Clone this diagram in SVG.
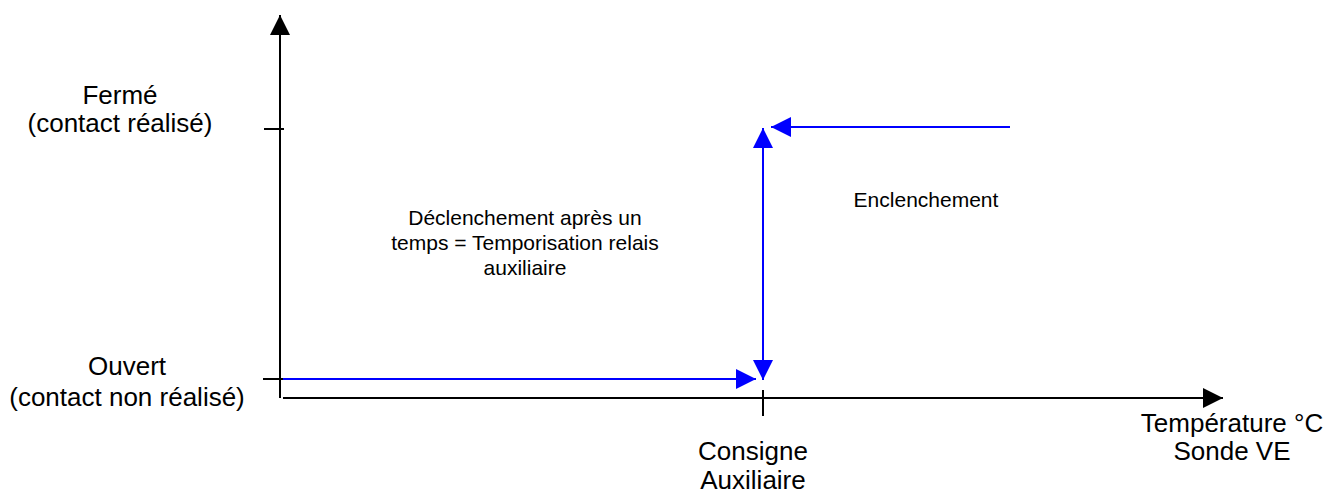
<svg xmlns="http://www.w3.org/2000/svg" width="1332" height="494" viewBox="0 0 1332 494">
<style>
text{font-family:"Liberation Sans",Arial,sans-serif;fill:#000;text-anchor:middle}
.big{font-size:26px}
.small{font-size:21px}
.ax{stroke:#000;stroke-width:2;fill:none}
.bl{stroke:#0000FF;stroke-width:2;fill:none}
</style>
<defs>
<marker id="ak" markerUnits="userSpaceOnUse" markerWidth="20" markerHeight="20" refX="20" refY="10" orient="auto"><path d="M0,0 L20,10 L0,20 z" fill="#000"/></marker>
<marker id="ab" markerUnits="userSpaceOnUse" markerWidth="20" markerHeight="20" refX="20" refY="10" orient="auto"><path d="M0,0 L20,10 L0,20 z" fill="#0000FF"/></marker>
<marker id="abs" markerUnits="userSpaceOnUse" markerWidth="20" markerHeight="20" refX="0" refY="10" orient="auto"><path d="M20,0 L0,10 L20,20 z" fill="#0000FF"/></marker>
</defs>
<g id="connectors">
<line class="ax" x1="280" y1="398" x2="280" y2="15" marker-end="url(#ak)"/>
<line class="ax" x1="283" y1="398" x2="1223" y2="398" marker-end="url(#ak)"/>
<line class="ax" x1="264" y1="129" x2="284" y2="129"/>
<line class="ax" x1="263" y1="379" x2="283" y2="379"/>
<line class="ax" x1="763" y1="390" x2="763" y2="416"/>
<line class="bl" x1="283" y1="379" x2="756" y2="379" marker-end="url(#ab)"/>
<line class="bl" x1="763" y1="128" x2="763" y2="380" marker-start="url(#abs)" marker-end="url(#ab)"/>
<line class="bl" x1="1010" y1="127" x2="771" y2="127" marker-end="url(#ab)"/>
</g>
<g id="label-ferme"><text class="big" x="120" y="104">Fermé</text><text class="big" x="120" y="132">(contact réalisé)</text></g>
<g id="label-ouvert"><text class="big" x="127" y="375">Ouvert</text><text class="big" x="127" y="406">(contact non réalisé)</text></g>
<g id="label-declenchement"><text class="small" x="525" y="225">Déclenchement après un</text><text class="small" x="525" y="250">temps = Temporisation relais</text><text class="small" x="525" y="275">auxiliaire</text></g>
<g id="label-enclenchement"><text class="small" x="926" y="207">Enclenchement</text></g>
<g id="label-consigne"><text class="big" x="753" y="460">Consigne</text><text class="big" x="753" y="489">Auxiliaire</text></g>
<g id="label-temperature"><text class="big" x="1232" y="432">Température °C</text><text class="big" x="1232" y="460">Sonde VE</text></g>
</svg>
